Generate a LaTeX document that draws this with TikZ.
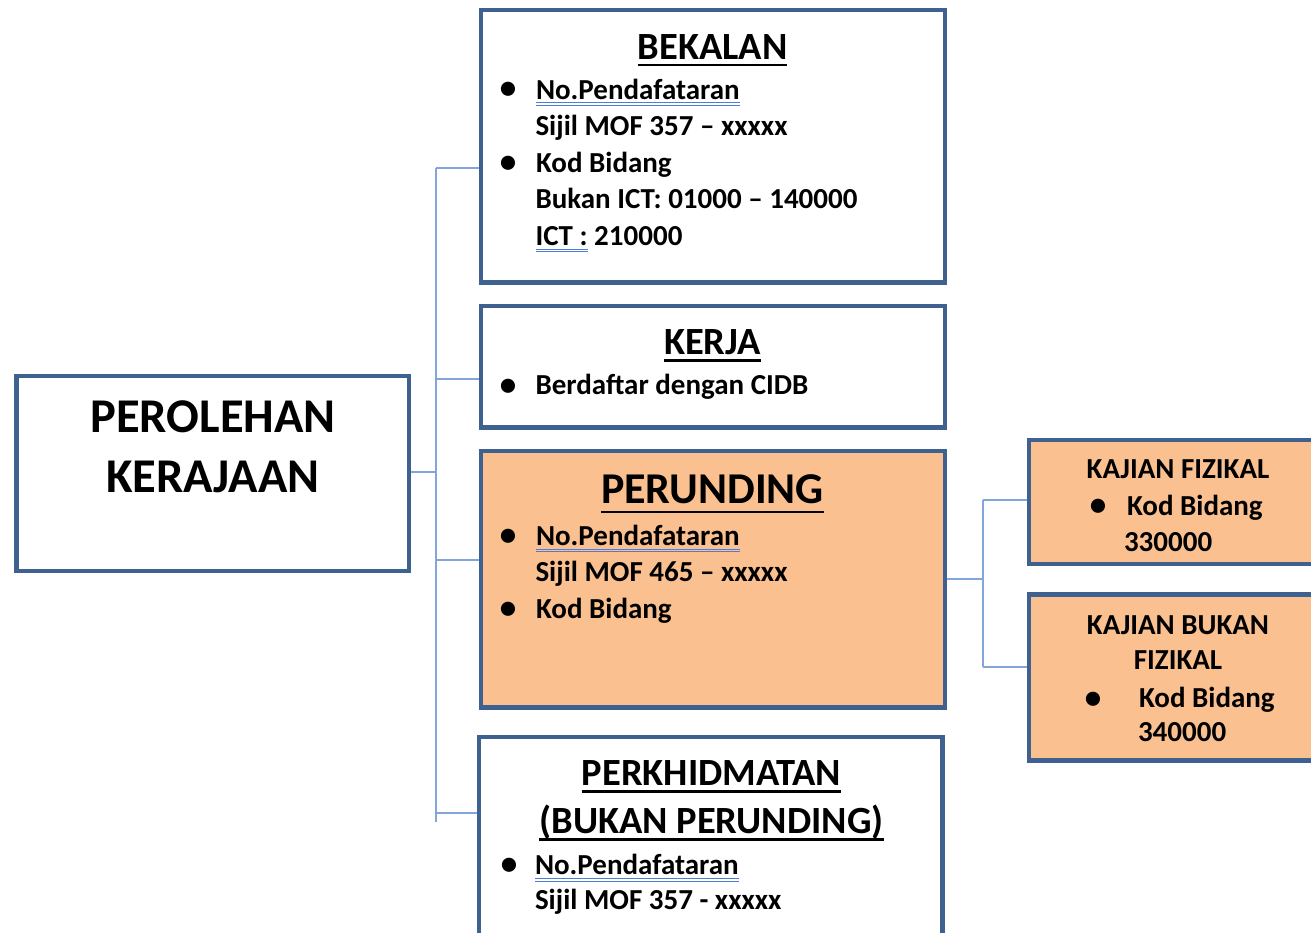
\documentclass[tikz,border=0pt]{standalone}
\usepackage{fontspec}
\setmainfont{Carlito}
\definecolor{bordc}{HTML}{3F6190}
\definecolor{peach}{HTML}{FAC090}
\definecolor{connc}{HTML}{82A6D9}
\definecolor{spellc}{HTML}{4F7BD9}
\pgfdeclarelayer{bg}
\pgfsetlayers{bg,main}
\tikzset{
  box/.style={draw=bordc, line width=4.5pt, fill=white, inner sep=0pt, outer sep=0pt, anchor=north west, rectangle},
  txt/.style={inner sep=0pt, outer sep=0pt, anchor=base west, font=\bfseries\fontsize{29}{36}\selectfont},
  ctxt/.style={inner sep=0pt, outer sep=0pt, anchor=base, font=\bfseries\fontsize{29}{36}\selectfont},
  ttl/.style={inner sep=0pt, outer sep=0pt, anchor=base, font=\bfseries\fontsize{38.5}{47}\selectfont},
  bigttl/.style={inner sep=0pt, outer sep=0pt, anchor=base, font=\bfseries\fontsize{44}{54}\selectfont},
  mainttl/.style={inner sep=0pt, outer sep=0pt, anchor=base, font=\bfseries\fontsize{48.5}{59}\selectfont},
  bul/.style={inner sep=0pt, outer sep=0pt, anchor=center, font=\fontsize{40}{44}\selectfont},
  ul/.style={line width=2.4pt, black},
  spell/.style={line width=1.1pt, spellc},
  conn/.style={draw=connc, line width=2pt},
}
\begin{document}
\begin{tikzpicture}[x=1pt, y=-1pt]
\useasboundingbox (0,0) rectangle (1311,932);
\clip (0,0) rectangle (1311,932);

% boxes
\node[box, minimum width=392.3pt, minimum height=195pt] (perol) at (16.7,376) {};
\node[box, minimum width=464pt, minimum height=272.5pt] (bek) at (481,10) {};
\node[box, minimum width=464pt, minimum height=121.5pt] (kerja) at (481,306) {};
\node[box, fill=peach, minimum width=464pt, minimum height=256.5pt] (per) at (481,451) {};
\node[box, minimum width=463.5pt, minimum height=240pt] (perkh) at (479,737) {};
\node[box, fill=peach, minimum width=320pt, minimum height=124pt] (kf) at (1029,440) {};
\node[box, fill=peach, minimum width=320pt, minimum height=166pt] (kb) at (1029,594.5) {};

% connectors
\coordinate (j1) at (436,471.5);
\coordinate (trTop) at (436,168);
\coordinate (trBot) at (436,822);
\coordinate (bKer) at (436,379);
\coordinate (bPer) at (436,560);
\coordinate (bPkh) at (436,813);
\coordinate (j2) at (983,579.25);
\coordinate (t2Top) at (983,500);
\coordinate (t2Bot) at (983,667);
\begin{pgfonlayer}{bg}
\draw[conn] (perol.east |- j1) -- (j1);
\draw[conn] (trTop) -- (trBot);
\draw[conn] (trTop) -- (trTop -| bek.west);
\draw[conn] (bKer) -- (bKer -| kerja.west);
\draw[conn] (bPer) -- (bPer -| per.west);
\draw[conn] (bPkh) -- (bPkh -| perkh.west);
\draw[conn] (per.east) -- (j2);
\draw[conn] (t2Top) -- (t2Bot);
\draw[conn] (t2Top) -- (t2Top -| kf.west);
\draw[conn] (t2Bot) -- (t2Bot -| kb.west);
\end{pgfonlayer}

% PEROLEHAN
\node[mainttl] (perolA) at (213,432.5) {PEROLEHAN};
\node[mainttl] (perolB) at (213,492.5) {KERAJAAN};

% BEKALAN
\node[ttl] (bekT) at (712.5,59) {BEKALAN};
\draw[ul] ([yshift=-6pt]bekT.base west) -- ([yshift=-6pt]bekT.base east);
\node[bul] (bekB1) at (508,91.5) {•};
\node[txt] (bek1) at (536,99) {No.Pendafataran};
\draw[spell] ([yshift=-3.8pt]bek1.base west) -- ([yshift=-3.8pt]bek1.base east);
\draw[spell] ([yshift=-6.6pt]bek1.base west) -- ([yshift=-6.6pt]bek1.base east);
\node[txt] (bek2) at (535.5,135.5) {Sijil MOF 357 – xxxxx};
\node[bul] (bekB2) at (508,165) {•};
\node[txt] (bek3) at (536,172.2) {Kod Bidang};
\node[txt] (bek4) at (535.5,208.8) {Bukan ICT: 01000 – 140000};
\node[txt] (bek5) at (535.5,245.3) {ICT :};
\draw[spell] ([yshift=-3.8pt]bek5.base west) -- ([yshift=-3.8pt]bek5.base east);
\draw[spell] ([yshift=-6.6pt]bek5.base west) -- ([yshift=-6.6pt]bek5.base east);
\node[txt] (bek6) at ([xshift=6.6pt]bek5.base east) {210000};

% KERJA
\node[ttl] (kerT) at (712.5,354.3) {KERJA};
\draw[ul] ([yshift=-6pt]kerT.base west) -- ([yshift=-6pt]kerT.base east);
\node[bul] (kerB1) at (508.3,388) {•};
\node[txt] (ker1) at (535.5,394.5) {Berdaftar dengan CIDB};

% PERUNDING
\node[bigttl] (perT) at (712.5,503.7) {PERUNDING};
\draw[ul] ([yshift=-8pt]perT.base west) -- ([yshift=-8pt]perT.base east);
\node[bul] (perB1) at (508.3,538) {•};
\node[txt] (per1) at (536,545.3) {No.Pendafataran};
\draw[spell] ([yshift=-3.8pt]per1.base west) -- ([yshift=-3.8pt]per1.base east);
\draw[spell] ([yshift=-6.6pt]per1.base west) -- ([yshift=-6.6pt]per1.base east);
\node[txt] (per2) at (535.5,581.8) {Sijil MOF 465 – xxxxx};
\node[bul] (perB2) at (508.3,611.5) {•};
\node[txt] (per3) at (536,618.7) {Kod Bidang};

% PERKHIDMATAN
\node[ttl] (pkT1) at (711.5,785.5) {PERKHIDMATAN};
\draw[ul] ([yshift=-6pt]pkT1.base west) -- ([yshift=-6pt]pkT1.base east);
\node[ttl] (pkT2) at (711.5,833.5) {(BUKAN PERUNDING)};
\draw[ul] ([yshift=-6pt]pkT2.base west) -- ([yshift=-6pt]pkT2.base east);
\node[bul] (pkB1) at (509,867.5) {•};
\node[txt] (pk1) at (535,874.5) {No.Pendafataran};
\draw[spell] ([yshift=-3.8pt]pk1.base west) -- ([yshift=-3.8pt]pk1.base east);
\draw[spell] ([yshift=-6.6pt]pk1.base west) -- ([yshift=-6.6pt]pk1.base east);
\node[txt] (pk2) at (535,909.3) {Sijil MOF 357 - xxxxx};

% KAJIAN FIZIKAL
\node[ctxt] (kfT) at (1178,478.7) {KAJIAN FIZIKAL};
\node[bul] (kfB) at (1098,508) {•};
\node[txt] (kf1) at (1127,515) {Kod Bidang};
\node[txt] (kf2) at (1124,551) {330000};

% KAJIAN BUKAN FIZIKAL
\node[ctxt] (kbT1) at (1178,634) {KAJIAN BUKAN};
\node[ctxt] (kbT2) at (1178,669.3) {FIZIKAL};
\node[bul] (kbB) at (1093,701) {•};
\node[txt] (kb1) at (1139,707.7) {Kod Bidang};
\node[txt] (kb2) at (1138,741.7) {340000};
\end{tikzpicture}
\end{document}
